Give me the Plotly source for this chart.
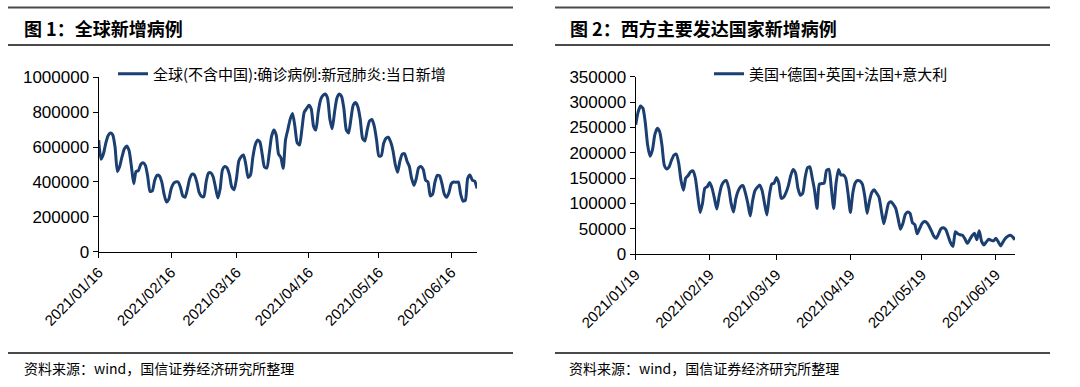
import pandas as pd
import plotly.graph_objects as go

# ---------------- data ----------------
# Chart 1: global daily new cases (ex China), daily from 2021-01-16, in thousands
start1 = "2021-01-16"
global_k = [
    640, 530, 560, 620, 665, 680, 670, 600, 460, 490,
    545, 590, 606, 580, 490, 390, 460, 465, 500, 510,
    495, 430, 345, 350, 410, 438, 435, 400, 330, 285,
    300, 360, 390, 400, 400, 370, 320, 312, 360, 420,
    445, 440, 400, 340, 318, 315, 400, 450, 452, 430,
    370, 308, 360, 470, 488, 480, 440, 370, 355, 420,
    520, 545, 555, 500, 425, 440, 540, 610, 640, 630,
    560, 485, 480, 560, 660, 698, 670, 560, 540, 478,
    640, 700, 760, 793, 720, 625, 612, 700, 800, 820,
    840, 820, 720, 698, 800, 870, 895, 904, 880, 760,
    705, 800, 880, 904, 890, 820, 700, 680, 760, 840,
    855, 830, 760, 650, 635, 700, 750, 758, 720, 640,
    548, 550, 620, 650, 656, 630, 580, 500, 455, 520,
    560, 562, 520, 490, 420, 380, 420, 480, 488, 470,
    410, 400, 320, 330, 400, 438, 435, 390, 330, 312,
    340, 390, 400, 398, 400, 330, 290, 295, 420, 440,
    410, 405, 363,
]
name1 = "全球(不含中国):确诊病例:新冠肺炎:当日新增"
ticks1 = ["2021-01-16", "2021-02-16", "2021-03-16", "2021-04-16", "2021-05-16", "2021-06-16"]
ticklabels1 = ["2021/01/16", "2021/02/16", "2021/03/16", "2021/04/16", "2021/05/16", "2021/06/16"]
yticks1 = [0, 200000, 400000, 600000, 800000, 1000000]

# Chart 2: US+Germany+UK+France+Italy daily new cases, daily from 2021-01-19, in thousands
start2 = "2021-01-19"
west_k = [
    255, 280, 292, 288, 260, 215, 193, 205, 235, 248,
    242, 215, 175, 168, 172, 185, 195, 197, 180, 145,
    126, 150, 155, 162, 164, 150, 115, 82, 100, 130,
    133, 141, 130, 110, 89, 115, 135, 143, 145, 130,
    100, 83, 110, 125, 133, 135, 120, 100, 75, 105,
    125, 132, 136, 125, 100, 77, 115, 138, 140, 151,
    140, 110, 112, 121, 135, 155, 167, 160, 130, 116,
    120, 150, 170, 172, 150, 125, 90, 138, 139, 140,
    165, 167, 130, 90, 140, 167, 156, 156, 150, 120,
    82, 120, 140, 145, 144, 138, 115, 80, 105, 122,
    127, 120, 112, 85, 60, 80, 100, 103, 98, 90,
    70, 49, 60, 78, 83, 80, 62, 58, 40, 50,
    60, 64, 62, 55, 45, 35, 31, 40, 50, 52,
    48, 35, 22, 15, 44, 40, 38, 37, 30, 21,
    28, 36, 41, 28, 46, 25, 18, 24, 29, 27,
    26, 31, 24, 16, 24, 31, 35, 37, 34, 28,
]
name2 = "美国+德国+英国+法国+意大利"
ticks2 = ["2021-01-19", "2021-02-19", "2021-03-19", "2021-04-19", "2021-05-19", "2021-06-19"]
ticklabels2 = ["2021/01/19", "2021/02/19", "2021/03/19", "2021/04/19", "2021/05/19", "2021/06/19"]
yticks2 = [0, 50000, 100000, 150000, 200000, 250000, 300000, 350000]

titles = ["图 1：全球新增病例", "图 2：西方主要发达国家新增病例"]
source = "资料来源：wind，国信证券经济研究所整理"

# ---------------- figure ----------------
W, H = 1080, 387
LINE = "#1B3F70"
CJK = "Noto Sans CJK SC"
LAT = "Liberation Sans, Arial, sans-serif"

def px(x):
    return x / W

def py(y):
    return 1 - y / H

dates1 = pd.date_range(start1, periods=len(global_k), freq="D")
dates2 = pd.date_range(start2, periods=len(west_k), freq="D")

fig = go.Figure()
fig.add_trace(go.Scatter(
    x=dates1, y=[v * 1000 for v in global_k], mode="lines", name=name1,
    line=dict(color=LINE, width=3, shape="spline", smoothing=0.6),
    xaxis="x", yaxis="y", legend="legend",
))
fig.add_trace(go.Scatter(
    x=dates2, y=[v * 1000 for v in west_k], mode="lines", name=name2,
    line=dict(color=LINE, width=3, shape="spline", smoothing=0.6),
    xaxis="x2", yaxis="y2", legend="legend2",
))

xcommon = dict(
    type="date", showgrid=False, zeroline=False, showline=True, automargin=False,
    linecolor="#000", linewidth=1.3, ticks="outside", ticklen=5,
    tickcolor="#000", tickwidth=1.3, tickangle=-45,
    tickfont=dict(family=LAT, size=15, color="#000"),
)
ycommon = dict(
    showgrid=False, zeroline=False, showline=True, automargin=False,
    linecolor="#000", linewidth=1.3, ticks="outside", ticklen=5,
    tickcolor="#000", tickwidth=1.3,
    tickfont=dict(family=LAT, size=17, color="#000"),
)

fig.update_layout(
    template="none",
    width=W, height=H,
    margin=dict(l=0, r=0, t=0, b=0, pad=0),
    paper_bgcolor="white", plot_bgcolor="white",
    xaxis=dict(xcommon, domain=[px(98.7), px(477)], anchor="y",
               range=["2021-01-16", "2021-06-27"],
               tickvals=ticks1, ticktext=ticklabels1),
    yaxis=dict(ycommon, domain=[py(251.7), py(77.3)], anchor="x",
               range=[0, 1000000], tickvals=yticks1,
               ticktext=[str(v) for v in yticks1]),
    xaxis2=dict(xcommon, domain=[px(635.7), px(1015)], anchor="y2",
                range=["2021-01-19", "2021-06-27"],
                tickvals=ticks2, ticktext=ticklabels2),
    yaxis2=dict(ycommon, domain=[py(254), py(76.7)], anchor="x2",
                range=[0, 350000], tickvals=yticks2,
                ticktext=[str(v) for v in yticks2]),
    legend=dict(x=px(113), y=py(74), xanchor="left", yanchor="middle",
                bgcolor="rgba(0,0,0,0)", borderwidth=0,
                font=dict(family=CJK, size=15, color="#000")),
    legend2=dict(x=px(709), y=py(74), xanchor="left", yanchor="middle",
                 bgcolor="rgba(0,0,0,0)", borderwidth=0,
                 font=dict(family=CJK, size=15, color="#000")),
    showlegend=True,
)

shapes = []
for (x0, x1) in [(8, 513), (555, 1050)]:
    for y in (7.5, 45, 353):
        shapes.append(dict(type="line", xref="paper", yref="paper",
                           x0=px(x0), x1=px(x1), y0=py(y), y1=py(y),
                           line=dict(color="#4a4a4a", width=1.8)))
fig.update_layout(shapes=shapes)

annotations = []
for tx, title in zip((22, 568), titles):
    annotations.append(dict(xref="paper", yref="paper", x=px(tx), y=py(28),
                            xanchor="left", yanchor="middle", showarrow=False,
                            text="<b>" + title + "</b>",
                            font=dict(family=CJK, size=18, color="#000")))
for tx in (22, 567):
    annotations.append(dict(xref="paper", yref="paper", x=px(tx), y=py(368),
                            xanchor="left", yanchor="middle", showarrow=False,
                            text=source,
                            font=dict(family=CJK, size=14, color="#000")))
fig.update_layout(annotations=annotations)

fig.write_html(
    "out.html",
    config={"displayModeBar": False},
    post_script="document.body.style.margin='0';document.body.style.overflow='hidden';",
)
